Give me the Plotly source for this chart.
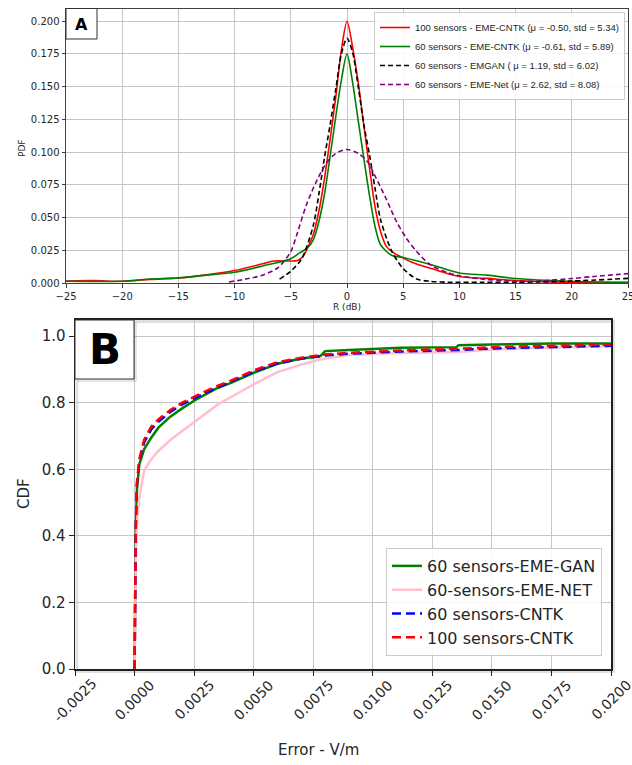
import plotly.graph_objects as go

W, H = 632, 765

# ---------------- Panel A data (PDF of R in dB) ----------------
red_pdf_x = [-25, -22.5, -20, -17.5, -15, -12.5, -10, -7.5, -6.5, -5, -4.4, -3.9, -3.5, -3, -2.5, -2, -1.5, -1, -0.5,
             0, 0.5, 1, 1.5, 2, 2.5, 3, 3.5, 4, 5, 6, 7.5, 10, 12.5, 15, 20, 25]
red_pdf_y = [0.0015, 0.0018, 0.0013, 0.0028, 0.0038, 0.0062, 0.0095, 0.0147, 0.0168, 0.0168, 0.0172, 0.0205, 0.027,
             0.037, 0.055, 0.08, 0.11, 0.142, 0.178, 0.200, 0.18, 0.153, 0.12, 0.088, 0.058, 0.039, 0.028, 0.024,
             0.019, 0.015, 0.011, 0.005, 0.0035, 0.0018, 0.0005, 0.0003]

green_pdf_x = [-25, -20, -17.5, -15, -12.5, -10, -7.5, -5, -4.2, -3.5, -3, -2.5, -2, -1.5, -1, -0.5,
               0, 0.5, 1, 1.5, 2, 2.5, 3, 4, 5, 7.5, 10, 12.5, 15, 20, 25]
green_pdf_y = [0.0013, 0.0013, 0.003, 0.0039, 0.006, 0.0082, 0.013, 0.0186, 0.023, 0.027, 0.033, 0.047, 0.068,
               0.097, 0.127, 0.155, 0.175, 0.153, 0.124, 0.095, 0.067, 0.043, 0.029, 0.021, 0.0195, 0.014, 0.0077,
               0.006, 0.0034, 0.0013, 0.0005]

black_pdf_x = [-6, -5, -4, -3, -2.5, -2, -1.5, -1, -0.5, 0, 0.5, 1, 1.5, 2, 2.5, 3, 4, 5, 6.2, 7.4, 9, 12,
               15, 17, 20, 25]
black_pdf_y = [0.003, 0.009, 0.019, 0.044, 0.068, 0.096, 0.121, 0.148, 0.175, 0.187, 0.176, 0.15, 0.121, 0.098,
               0.072, 0.048, 0.024, 0.011, 0.003, 0.0013, 0.0006, 0.0005, 0.0005, 0.0008, 0.0015, 0.0035]

purple_pdf_x = [-10.5, -9, -7.5, -6.1, -5, -4.5, -3.6, -2.7, -1.8, -1, 0, 1, 1.8, 2.6, 3.5, 4.4, 5.3, 6.2,
                7.4, 8.9, 10, 12, 15, 17, 20, 22, 25]
purple_pdf_y = [0.0008, 0.003, 0.006, 0.012, 0.024, 0.036, 0.06, 0.078, 0.092, 0.099, 0.102, 0.099, 0.093,
                0.08, 0.064, 0.047, 0.034, 0.024, 0.014, 0.008, 0.0055, 0.003, 0.0013, 0.0015, 0.0034, 0.005,
                0.0072]

pdf_names = ["100 sensors - EME-CNTK (\u03bc = -0.50, std = 5.34)",
             "60 sensors - EME-CNTK (\u03bc = -0.61, std = 5.89)",
             "60 sensors - EMGAN ( \u03bc = 1.19, std = 6.02)",
             "60 sensors - EME-Net (\u03bc = 2.62, std = 8.08)"]

pdf_xticks = [-25, -20, -15, -10, -5, 0, 5, 10, 15, 20, 25]
pdf_yticks = [0.0, 0.025, 0.05, 0.075, 0.1, 0.125, 0.15, 0.175, 0.2]

# ---------------- Panel B data (CDF of error) ----------------
cdf_x = [0, 0.00002, 0.00005, 0.0001, 0.0002, 0.0004, 0.0007, 0.001, 0.0015, 0.002, 0.0025, 0.003, 0.0035,
         0.004, 0.005, 0.006, 0.007, 0.0078, 0.008, 0.009, 0.01, 0.0112, 0.0135, 0.0136, 0.015, 0.0165,
         0.0175, 0.02]
cdf_gan = [0, 0.2, 0.42, 0.54, 0.615, 0.66, 0.695, 0.725, 0.758, 0.783, 0.806, 0.826, 0.845, 0.858, 0.89,
           0.917, 0.933, 0.94, 0.955, 0.958, 0.961, 0.965, 0.967, 0.973, 0.975, 0.978, 0.978, 0.978]
cdf_net = [0, 0.15, 0.32, 0.44, 0.515, 0.595, 0.63, 0.655, 0.688, 0.715, 0.742, 0.77, 0.795, 0.815, 0.855,
           0.892, 0.915, 0.93, 0.933, 0.943, 0.947, 0.949, 0.951, 0.952, 0.96, 0.964, 0.966, 0.97]
cdf_cntk60 = [0, 0.2, 0.42, 0.555, 0.625, 0.68, 0.72, 0.743, 0.772, 0.795, 0.813, 0.83, 0.846, 0.861, 0.893,
              0.918, 0.932, 0.94, 0.942, 0.947, 0.951, 0.954, 0.958, 0.958, 0.963, 0.966, 0.968, 0.971]
cdf_cntk100 = [0, 0.2, 0.42, 0.56, 0.63, 0.688, 0.728, 0.75, 0.778, 0.8, 0.818, 0.835, 0.851, 0.865, 0.897,
               0.922, 0.935, 0.943, 0.945, 0.95, 0.954, 0.957, 0.962, 0.962, 0.967, 0.97, 0.972, 0.975]
cdf_names = ["60 sensors-EME-GAN", "60-sensors-EME-NET", "60 sensors-CNTK", "100 sensors-CNTK"]

cdf_xticks = [-0.0025, 0.0, 0.0025, 0.005, 0.0075, 0.01, 0.0125, 0.015, 0.0175, 0.02]
cdf_xticklabels = ["-0.0025", "0.0000", "0.0025", "0.0050", "0.0075", "0.0100", "0.0125", "0.0150",
                   "0.0175", "0.0200"]
cdf_yticks = [0.0, 0.2, 0.4, 0.6, 0.8, 1.0]


def px(x):
    return x / W


def py(y):
    return 1 - y / H


fig = go.Figure()

# Panel A traces
pdf_series = [(red_pdf_x, red_pdf_y, "#ff0000", "solid"),
              (green_pdf_x, green_pdf_y, "#008000", "solid"),
              (black_pdf_x, black_pdf_y, "#000000", "5px,3px"),
              (purple_pdf_x, purple_pdf_y, "#800080", "5px,3px")]
for (xs, ys, c, d), name in zip(pdf_series, pdf_names):
    fig.add_trace(go.Scatter(x=xs, y=ys, mode="lines", name=name, hoverinfo="skip",
                             line=dict(color=c, width=1.6, dash=d, shape="spline", smoothing=0.8),
                             xaxis="x", yaxis="y", legend="legend"))

# Panel B traces
cdf_series = [(cdf_gan, "#008000", "solid"), (cdf_net, "#ffc0cb", "solid"),
              (cdf_cntk60, "#0000ff", "9px,5px"), (cdf_cntk100, "#ff0000", "9px,5px")]
for (ys, c, d), name in zip(cdf_series, cdf_names):
    fig.add_trace(go.Scatter(x=cdf_x, y=ys, mode="lines", name=name, hoverinfo="skip",
                             line=dict(color=c, width=2.5, dash=d),
                             xaxis="x2", yaxis="y2", legend="legend2"))

grid = "#c6c6c6"
tick_font_a = dict(family="DejaVu Sans", size=10, color="#262626")
tick_font_b = dict(family="DejaVu Sans", size=15, color="#262626")

fig.update_layout(
    width=W, height=H,
    margin=dict(l=0, r=0, t=0, b=0),
    paper_bgcolor="white", plot_bgcolor="white",
    showlegend=True, hovermode=False,
    xaxis=dict(domain=[px(66), px(628)], range=[-25, 25], tickvals=pdf_xticks,
               showgrid=True, gridcolor=grid, gridwidth=1, zeroline=False,
               showline=True, linecolor="#404040", linewidth=1, mirror=True,
               ticks="outside", ticklen=3.5, tickcolor="#404040", ticklabeloverflow="allow",
               tickfont=tick_font_a, anchor="y", automargin=False),
    yaxis=dict(domain=[py(283), py(8.5)], range=[0, 0.2097], tickvals=pdf_yticks,
               tickformat=".3f",
               showgrid=True, gridcolor=grid, gridwidth=1, zeroline=False,
               showline=True, linecolor="#404040", linewidth=1, mirror=True,
               ticks="outside", ticklen=3.5, tickcolor="#404040",
               tickfont=tick_font_a, anchor="x", automargin=False),
    xaxis2=dict(domain=[px(75), px(611)], range=[-0.0025, 0.02], tickvals=cdf_xticks,
                showticklabels=False,
                showgrid=True, gridcolor=grid, gridwidth=1.2, zeroline=False,
                showline=True, linecolor="#202020", linewidth=1.5, mirror=True,
                ticks="outside", ticklen=5, tickcolor="#202020",
                anchor="y2", automargin=False),
    yaxis2=dict(domain=[py(669), py(319.5)], range=[0, 1.05], tickvals=cdf_yticks,
                tickformat=".1f",
                showgrid=True, gridcolor=grid, gridwidth=1.2, zeroline=False,
                showline=True, linecolor="#202020", linewidth=1.5, mirror=True,
                ticks="outside", ticklen=5, tickcolor="#202020",
                tickfont=tick_font_b, anchor="x2", automargin=False),
    legend=dict(x=px(625), y=py(12), xanchor="right", yanchor="top",
                bgcolor="rgba(255,255,255,0.85)", bordercolor="#cccccc", borderwidth=1,
                font=dict(family="Liberation Sans", size=9.5, color="#262626"),
                tracegroupgap=0, itemwidth=30),
    legend2=dict(x=px(602), y=py(656), xanchor="right", yanchor="bottom",
                 bgcolor="rgba(255,255,255,0.85)", bordercolor="#cccccc", borderwidth=1,
                 font=dict(family="DejaVu Sans", size=16, color="#262626"),
                 tracegroupgap=0, itemwidth=30),
)


def ann(text, x, y, size, angle=0, color="#262626"):
    return dict(text=text, x=px(x), y=py(y), xref="paper", yref="paper", showarrow=False,
                textangle=angle, xanchor="center", yanchor="middle",
                font=dict(family="DejaVu Sans", size=size, color=color))


annotations = [
    ann("PDF", 22, 148, 9, -90),
    ann("R (dB)", 347, 307, 9),
    ann("CDF", 24, 494, 15, -90),
    ann("Error - V/m", 318, 750, 15),
    ann("<b>A</b>", 81.5, 24, 16, color="black"),
    ann("<b>B</b>", 105, 350, 42, color="black"),
]
for v, lab in zip(cdf_xticks, cdf_xticklabels):
    annotations.append(dict(text=lab, x=v, y=py(700), xref="x2", yref="paper", showarrow=False,
                            textangle=-45, xanchor="center", yanchor="middle",
                            font=dict(family="DejaVu Sans", size=14, color="#262626")))
fig.update_layout(annotations=annotations)

shapes = [
    # shadow of panel B frame
    dict(type="rect", xref="paper", yref="paper", x0=px(77), x1=px(613.5), y0=py(671.5), y1=py(321.5),
         line=dict(color="rgba(0,0,0,0.12)", width=3), layer="below"),
    # A box
    dict(type="rect", xref="paper", yref="paper", x0=px(66), x1=px(97), y0=py(39), y1=py(8.5),
         fillcolor="white", line=dict(color="#303030", width=1), layer="above"),
    # B box shadow
    dict(type="rect", xref="paper", yref="paper", x0=px(78), x1=px(137), y0=py(382), y1=py(322),
         fillcolor="rgba(0,0,0,0.10)", line=dict(width=0), layer="above"),
    # B box
    dict(type="rect", xref="paper", yref="paper", x0=px(75), x1=px(134), y0=py(379), y1=py(320),
         fillcolor="white", line=dict(color="#303030", width=1), layer="above"),
]
fig.update_layout(shapes=shapes)

fig.write_html("out.html", config={"displayModeBar": False, "staticPlot": True},
               post_script="document.body.style.margin='0';document.body.style.overflow='hidden';")
